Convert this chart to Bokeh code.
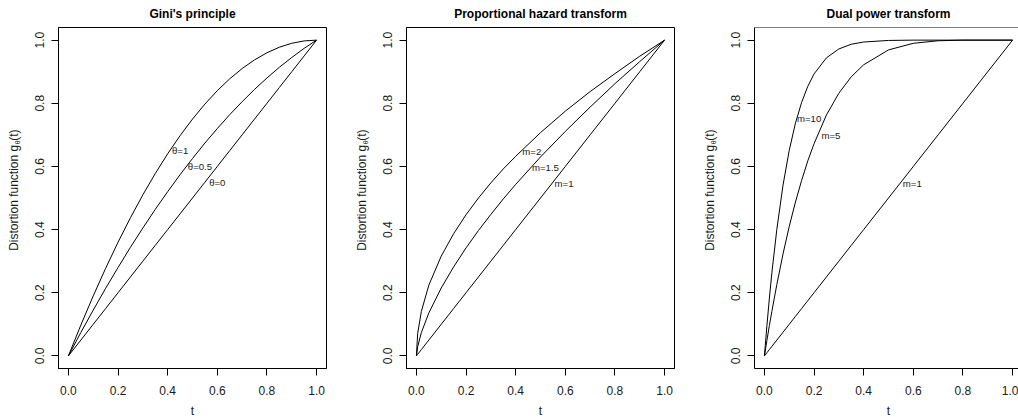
import math
from bokeh.plotting import figure
from bokeh.layouts import row, column
from bokeh.models import FixedTicker, Span
from bokeh.core.properties import value
from bokeh.embed import file_html
from bokeh.resources import INLINE

# ---------------- data ----------------
titles = ["Gini's principle", "Proportional hazard transform", "Dual power transform"]
tick_values = [0.0, 0.2, 0.4, 0.6, 0.8, 1.0]
tick_labels = ["0.0", "0.2", "0.4", "0.6", "0.8", "1.0"]
x_label = "t"
y_label_main = "Distortion function g"
y_label_sub = "θ"
y_label_tail = "(t)"

gini_t = [0.0, 0.05, 0.1, 0.15, 0.2, 0.25, 0.3, 0.35, 0.4, 0.45, 0.5,
          0.55, 0.6, 0.65, 0.7, 0.75, 0.8, 0.85, 0.9, 0.95, 1.0]
gini_theta0 = [0.0, 0.05, 0.1, 0.15, 0.2, 0.25, 0.3, 0.35, 0.4, 0.45, 0.5,
               0.55, 0.6, 0.65, 0.7, 0.75, 0.8, 0.85, 0.9, 0.95, 1.0]
gini_theta05 = [0.0, 0.074, 0.145, 0.214, 0.28, 0.344, 0.405, 0.464, 0.52, 0.574, 0.625,
                0.674, 0.72, 0.764, 0.805, 0.844, 0.88, 0.914, 0.945, 0.974, 1.0]
gini_theta1 = [0.0, 0.0975, 0.19, 0.2775, 0.36, 0.4375, 0.51, 0.5775, 0.64, 0.6975, 0.75,
               0.7975, 0.84, 0.8775, 0.91, 0.9375, 0.96, 0.9775, 0.99, 0.9975, 1.0]
gini_labels = ["θ=1", "θ=0.5", "θ=0"]
gini_label_x = [0.45, 0.53, 0.60]
gini_label_y = [0.65, 0.60, 0.55]

ph_t = [0.0, 0.005, 0.02, 0.05, 0.1, 0.15, 0.2, 0.25, 0.3, 0.35, 0.4,
        0.5, 0.6, 0.7, 0.8, 0.9, 1.0]
ph_m1 = [0.0, 0.005, 0.02, 0.05, 0.1, 0.15, 0.2, 0.25, 0.3, 0.35, 0.4,
         0.5, 0.6, 0.7, 0.8, 0.9, 1.0]
ph_m15 = [0.0, 0.029, 0.074, 0.136, 0.215, 0.282, 0.342, 0.397, 0.448, 0.497, 0.543,
          0.630, 0.711, 0.788, 0.862, 0.932, 1.0]
ph_m2 = [0.0, 0.071, 0.141, 0.224, 0.316, 0.387, 0.447, 0.5, 0.548, 0.592, 0.632,
         0.707, 0.775, 0.837, 0.894, 0.949, 1.0]
ph_labels = ["m=2", "m=1.5", "m=1"]
ph_label_x = [0.465, 0.52, 0.595]
ph_label_y = [0.647, 0.597, 0.547]

dp_t = [0.0, 0.01, 0.02, 0.03, 0.05, 0.075, 0.1, 0.125, 0.15, 0.175, 0.2,
        0.25, 0.3, 0.35, 0.4, 0.5, 0.6, 0.7, 0.8, 1.0]
dp_m1 = [0.0, 0.01, 0.02, 0.03, 0.05, 0.075, 0.1, 0.125, 0.15, 0.175, 0.2,
         0.25, 0.3, 0.35, 0.4, 0.5, 0.6, 0.7, 0.8, 1.0]
dp_m5 = [0.0, 0.049, 0.096, 0.141, 0.226, 0.323, 0.410, 0.487, 0.556, 0.618, 0.672,
         0.763, 0.832, 0.884, 0.922, 0.969, 0.990, 0.998, 1.0, 1.0]
dp_m10 = [0.0, 0.096, 0.183, 0.263, 0.401, 0.541, 0.651, 0.737, 0.803, 0.854, 0.893,
          0.944, 0.972, 0.987, 0.994, 0.999, 1.0, 1.0, 1.0, 1.0]
dp_labels = ["m=10", "m=5", "m=1"]
dp_label_x = [0.18, 0.268, 0.596]
dp_label_y = [0.751, 0.698, 0.547]

panels = [
    (gini_t, [gini_theta1, gini_theta05, gini_theta0], gini_labels, gini_label_x, gini_label_y),
    (ph_t, [ph_m2, ph_m15, ph_m1], ph_labels, ph_label_x, ph_label_y),
    (dp_t, [dp_m10, dp_m5, dp_m1], dp_labels, dp_label_x, dp_label_y),
]

# ---------------- style / layout ----------------
FONT = "Liberation Sans"
TEXT_COLOR = "#1a1a1a"
PAGE_W, PAGE_H = 1018, 417
TOP_H = 25            # strip carrying the panel titles
BOT_H = 17            # strip carrying the x-axis label "t"
MID_H = PAGE_H - TOP_H - BOT_H
FRAME_W = 268
FRAME_H = 341
BORDER_L, BORDER_T = 30, 2
BORDER_B = MID_H - BORDER_T - FRAME_H
XS = FRAME_W / 1.08   # px per data unit in x
STRIP_W = [28, 20, 20]
LABEL_GAP = 44.7      # distance from frame left edge to y-label centre
PANEL_W = [BORDER_L + FRAME_W + 30, BORDER_L + FRAME_W + 30, None]


def bare_strip(width, height):
    s = figure(width=width, height=height, x_range=(0, width), y_range=(0, height),
               title=None, output_backend="svg", toolbar_location=None,
               x_axis_type=None, y_axis_type=None,
               min_border_left=0, min_border_right=0, min_border_top=0, min_border_bottom=0)
    s.grid.visible = False
    s.outline_line_color = None
    s.background_fill_color = "white"
    s.border_fill_color = "white"
    return s


# frame centres (page x) of the three panels
frame_lefts = []
xpos = 0
for i in range(3):
    xpos += STRIP_W[i]
    frame_lefts.append(xpos + BORDER_L)
    xpos += (PANEL_W[i] or 0)
centres = [fl + FRAME_W / 2 for fl in frame_lefts]


def make_ylabel_strip(width):
    s = bare_strip(width, MID_H)
    cx = width + BORDER_L - LABEL_GAP
    junction = MID_H - (154.0 - TOP_H)     # end of "g", start of subscript
    w_sub = 4.0
    common = dict(angle=math.pi / 2, text_font=value(FONT),
                  text_baseline="middle", text_color=TEXT_COLOR)
    s.text(x=[cx], y=[junction], text=[y_label_main], text_align="right",
           text_font_size=value("12px"), **common)
    s.text(x=[cx + 3.5], y=[junction + 0.5], text=[y_label_sub], text_align="left",
           text_font_size=value("7px"), **common)
    s.text(x=[cx], y=[junction + w_sub + 0.5], text=[y_label_tail], text_align="left",
           text_font_size=value("12px"), **common)
    return s


def make_panel(i, t, series, labels, lx, ly):
    last = (i == 2)
    border_r = 0 if last else 30
    frame_w = (PAGE_W - frame_lefts[2]) if last else FRAME_W
    x_end = -0.04 + frame_w / XS
    p = figure(width=BORDER_L + frame_w + border_r, height=MID_H,
               x_range=(-0.04, x_end), y_range=(-0.04, 1.04),
               title=None, output_backend="svg", toolbar_location=None,
               min_border_left=BORDER_L, min_border_right=border_r,
               min_border_top=BORDER_T, min_border_bottom=BORDER_B)
    p.grid.visible = False
    p.background_fill_color = "white"
    p.border_fill_color = "white"
    if last:
        # the reference crops this panel's right edge: no right border line
        p.outline_line_color = None
        p.add_layout(Span(location=1.04, dimension="width", line_color="black", line_width=1))
    else:
        p.outline_line_color = "black"
        p.outline_line_width = 1

    overrides = {v: s for v, s in zip(tick_values, tick_labels)}
    for ax in (p.xaxis[0], p.yaxis[0]):
        ax.ticker = FixedTicker(ticks=tick_values)
        ax.major_label_overrides = overrides
        ax.minor_tick_line_color = None
        ax.major_tick_in = 0
        ax.major_tick_out = 7
        ax.axis_line_color = "black"
        ax.major_tick_line_color = "black"
        ax.major_label_text_font = FONT
        ax.major_label_text_font_size = "12px"
        ax.major_label_text_color = TEXT_COLOR
    p.xaxis[0].major_label_standoff = 10
    p.yaxis[0].major_label_standoff = 7
    p.yaxis[0].major_label_orientation = "vertical"

    for ys in series:
        p.line(t, ys, line_color="black", line_width=1)

    p.text(x=lx, y=ly, text=labels, text_font=value(FONT),
           text_font_size=value("9.6px"), text_align="center",
           text_baseline="middle", text_color=TEXT_COLOR)
    return p


# titles strip
top = bare_strip(PAGE_W, TOP_H)
top.text(x=centres, y=[TOP_H - 13.0] * 3, text=titles, text_font=value(FONT),
         text_font_size=value("12px"), text_font_style="bold", text_align="center",
         text_baseline="middle", text_color="black")

# x-axis label strip
bottom = bare_strip(PAGE_W, BOT_H)
bottom.text(x=centres, y=[PAGE_H - 410.5] * 3, text=[x_label] * 3, text_font=value(FONT),
            text_font_size=value("12px"), text_align="center",
            text_baseline="middle", text_color=TEXT_COLOR)

children = []
for i in range(3):
    children.append(make_ylabel_strip(STRIP_W[i]))
    children.append(make_panel(i, *panels[i]))
middle = row(*children, spacing=0)
layout = column(top, middle, bottom, spacing=0)

open("out.html", "w").write(file_html(layout, INLINE))
